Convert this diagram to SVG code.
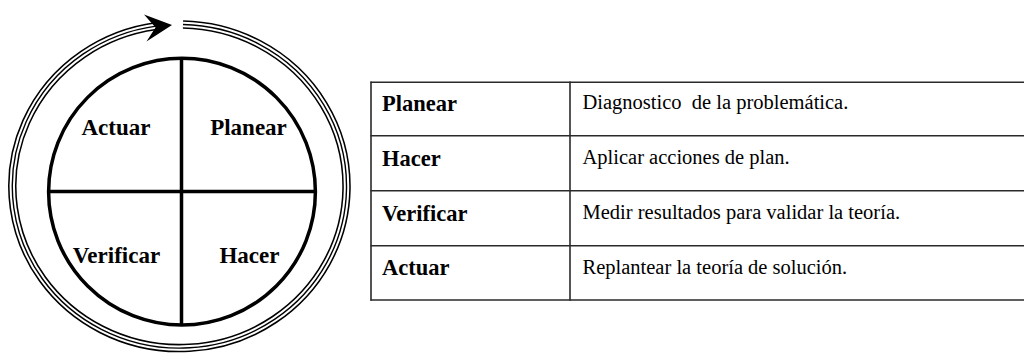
<svg xmlns="http://www.w3.org/2000/svg" width="1024" height="361" viewBox="0 0 1024 361">
<style>
.lbl{font-family:"Liberation Serif","Times New Roman",serif;font-weight:bold;font-size:23px;fill:#000;text-anchor:middle}
.th{font-family:"Liberation Serif","Times New Roman",serif;font-weight:bold;font-size:22.5px;fill:#000}
.td{font-family:"Liberation Serif","Times New Roman",serif;font-size:20.5px;fill:#000}
.grid{stroke:#2a2a2a;stroke-width:1.6;fill:none}
.heavy{stroke:#000;stroke-width:3.5;fill:none}
</style>
<rect width="1024" height="361" fill="#fff"/>
<g id="connectors">
  <path id="ring-outer" d="M183,24.54 A167.1,161.8 0 1 1 156,26.1" fill="none" stroke="#000" stroke-width="8.5"/>
  <path d="M183,24.54 A167.1,161.8 0 1 1 156,26.1" fill="none" stroke="#fff" stroke-width="5.4"/>
  <path d="M183,24.54 A167.1,161.8 0 1 1 156,26.1" fill="none" stroke="#000" stroke-width="1.4"/>
  <polygon points="172,25 144,14.5 155.5,27.5 146.5,41.5" fill="#000"/>
</g>
<g id="wheel">
  <circle cx="182" cy="191.7" r="133.4" class="heavy"/>
  <line x1="181.5" y1="58" x2="181.5" y2="325.5" class="heavy"/>
  <line x1="48.5" y1="191.5" x2="315.5" y2="191.5" class="heavy"/>
</g>
<g id="node-actuar"><text class="lbl" x="116" y="134.5">Actuar</text></g>
<g id="node-planear"><text class="lbl" x="248.5" y="135">Planear</text></g>
<g id="node-verificar"><text class="lbl" x="116.5" y="262.7">Verificar</text></g>
<g id="node-hacer"><text class="lbl" x="249.5" y="262.7">Hacer</text></g>
<g id="table">
  <line class="grid" x1="370.5" y1="82.3" x2="1024" y2="82.3"/>
  <line class="grid" x1="370.5" y1="135.7" x2="1024" y2="135.7"/>
  <line class="grid" x1="370.5" y1="190.7" x2="1024" y2="190.7"/>
  <line class="grid" x1="370.5" y1="245.7" x2="1024" y2="245.7" stroke="#000"/>
  <line class="grid" x1="370.5" y1="300" x2="1024" y2="300"/>
  <line class="grid" x1="371" y1="81.5" x2="371" y2="300.8"/>
  <line class="grid" x1="570" y1="81.5" x2="570" y2="300.8"/>
</g>
<g id="row-planear">
  <text class="th" x="382" y="110.5">Planear</text>
  <text class="td" x="582.5" y="109" xml:space="preserve">Diagnostico  de la problemática.</text>
</g>
<g id="row-hacer">
  <text class="th" x="382" y="165.5">Hacer</text>
  <text class="td" x="582.5" y="164">Aplicar acciones de plan.</text>
</g>
<g id="row-verificar">
  <text class="th" x="382" y="220.5">Verificar</text>
  <text class="td" x="582.5" y="219">Medir resultados para validar la teoría.</text>
</g>
<g id="row-actuar">
  <text class="th" x="382" y="275">Actuar</text>
  <text class="td" x="582.5" y="274">Replantear la teoría de solución.</text>
</g>
</svg>
